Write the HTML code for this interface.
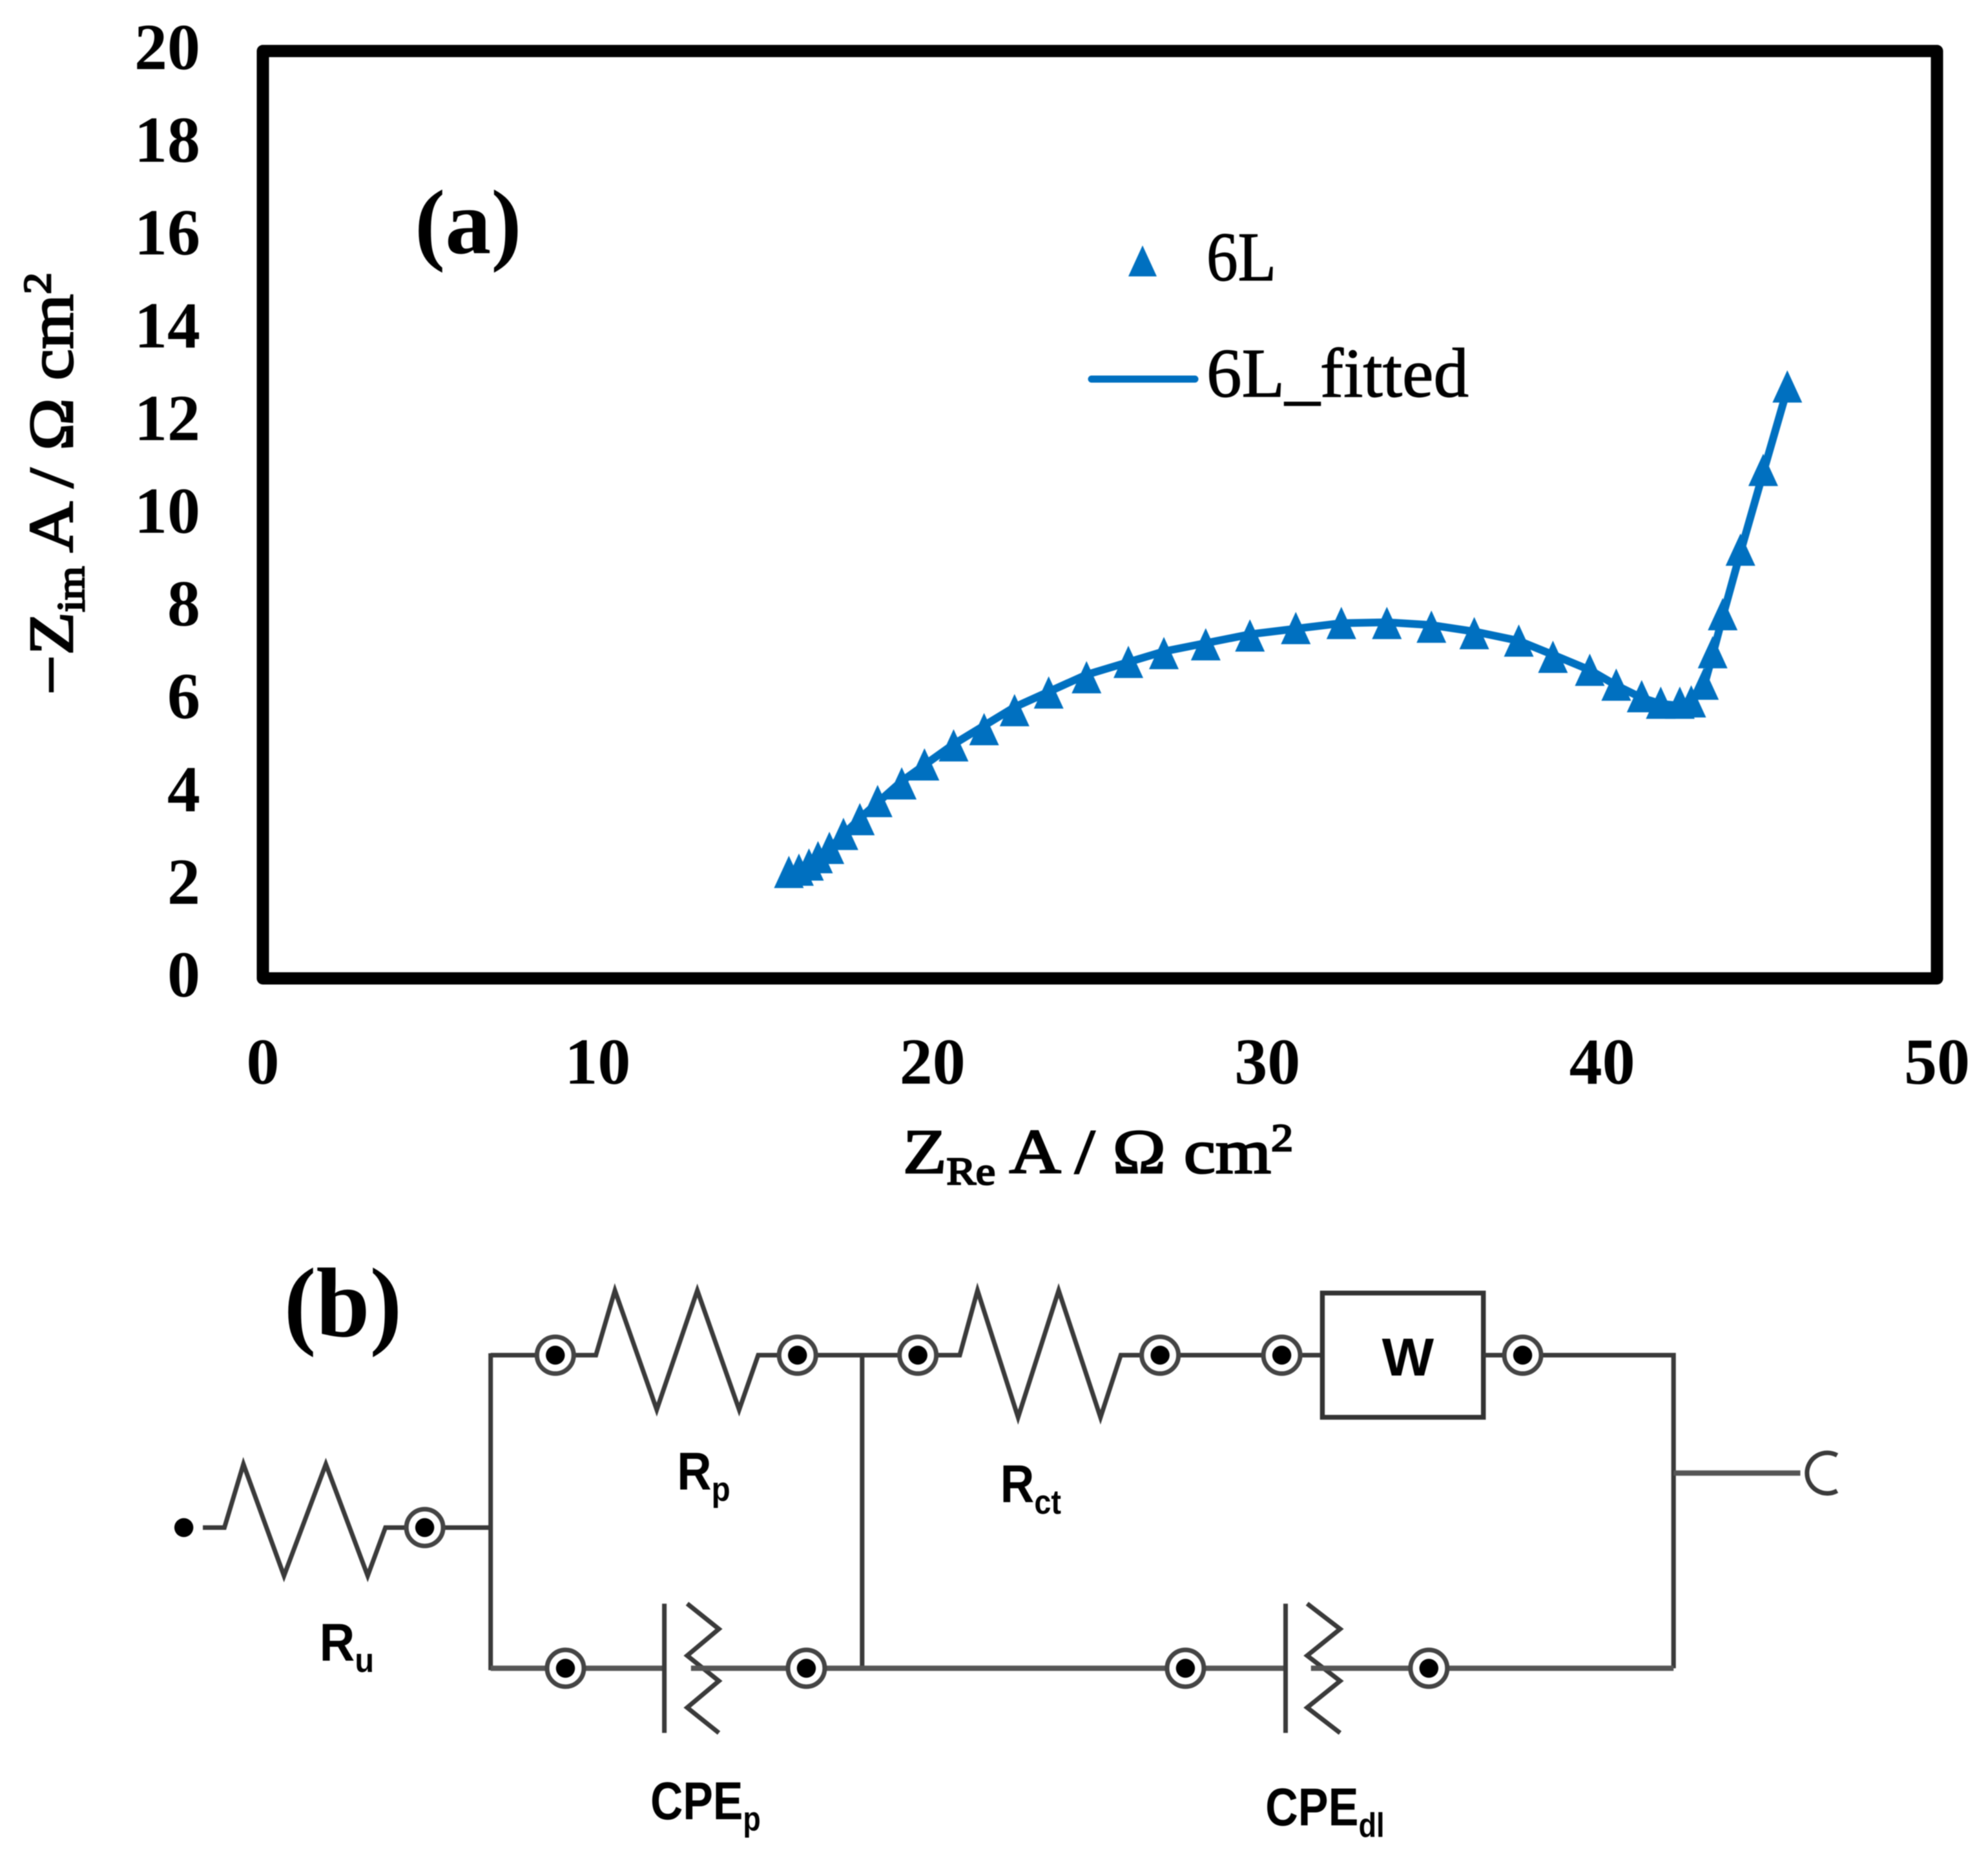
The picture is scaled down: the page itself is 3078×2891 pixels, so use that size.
<!DOCTYPE html>
<html lang="en">
<head>
<meta charset="utf-8">
<title>Nyquist plot and equivalent circuit</title>
<style>
html,body{margin:0;padding:0;background:#fff;}
svg{display:block;filter:blur(0.9px);}
.serif{font-family:"Liberation Serif",serif;fill:#000;}
.tick{font-size:102px;font-weight:bold;}
.leg{font-size:108px;stroke:#000;stroke-width:1.2px;}
.ax{font-size:98px;font-weight:normal;stroke:#000;stroke-width:2.6px;}
.sans{font-family:"Liberation Sans",sans-serif;font-weight:bold;fill:#000;font-size:42px;}
.wire{fill:none;stroke:#3a3a3a;stroke-width:3.6;stroke-linejoin:miter;}
.wire-soft{fill:none;stroke:#555;stroke-width:4.2;}
</style>
</head>
<body>
<svg id="figure" width="3078" height="2891" viewBox="0 0 3078 2891" xmlns="http://www.w3.org/2000/svg">
  <rect x="0" y="0" width="3078" height="2891" fill="#fff"/>
  <g id="chart">
    <rect x="407" y="79" width="2592" height="1436" fill="none" stroke="#000" stroke-width="19" stroke-linejoin="round"/>
    <g id="x-ticks"></g>
    <g id="y-ticks"></g>
    <path id="fit-line" fill="none" stroke="#0070C0" stroke-width="12" stroke-linejoin="round" stroke-linecap="round"/>
    <g id="markers"></g>
    <text class="serif ax" x="1398" y="1816" textLength="604" lengthAdjust="spacingAndGlyphs">Z<tspan font-size="60" dy="18">Re</tspan><tspan dy="-18"> A / Ω cm</tspan><tspan font-size="60" dy="-34">2</tspan></text>
    <text class="serif ax" transform="translate(112 1076) rotate(-90)" x="0" y="0" textLength="654" lengthAdjust="spacingAndGlyphs">−Z<tspan font-size="60" dy="18">im</tspan><tspan dy="-18"> A / Ω cm</tspan><tspan font-size="60" dy="-34">2</tspan></text>
    <text class="serif" x="642" y="392" font-size="142" font-weight="bold">(a)</text>
    <g>
      <polygon points="1769,380 1747,428 1791,428" fill="#0070C0"/>
      <text class="serif leg" x="1868" y="434" textLength="108" lengthAdjust="spacingAndGlyphs">6L</text>
      <line x1="1690" y1="587" x2="1850" y2="587" stroke="#0070C0" stroke-width="11" stroke-linecap="round"/>
      <text class="serif leg" x="1868" y="614" textLength="406" lengthAdjust="spacingAndGlyphs">6L_fitted</text>
    </g>
  </g>

  <g id="circuit" transform="scale(1.963)">
    <defs>
      <g id="node">
        <circle r="14.5" fill="#fff" stroke="#444" stroke-width="3.6"/>
        <circle r="7.5" fill="#000"/>
      </g>
    </defs>
    <text class="serif" x="224" y="1054" font-size="78" font-weight="bold" textLength="93" lengthAdjust="spacingAndGlyphs">(b)</text>
    <circle cx="145" cy="1205" r="7.5" fill="#000"/>
    <polyline class="wire" points="160,1205 177,1205 192,1155 224,1243 257,1155 290,1243 304,1205 320,1205"/>
    <line class="wire" x1="350" y1="1205" x2="387" y2="1205"/>
    <line class="wire" x1="387" y1="1067.5" x2="387" y2="1317.5"/>
    <line class="wire" x1="387" y1="1069" x2="423" y2="1069"/>
    <polyline class="wire" points="453,1069 470,1069 485,1018 518,1112 550,1018 583,1112 598,1069 614,1069"/>
    <line class="wire" x1="644" y1="1069" x2="709" y2="1069"/>
    <line class="wire" x1="680" y1="1069" x2="680" y2="1316"/>
    <polyline class="wire" points="739,1069 757,1069 771,1018 803,1118 835,1018 868,1118 884,1069 900,1069"/>
    <line class="wire" x1="930" y1="1069" x2="996" y2="1069"/>
    <line class="wire" x1="1026" y1="1069" x2="1043" y2="1069"/>
    <rect x="1043" y="1020" width="127" height="98" fill="#fff" stroke="#333" stroke-width="3.8"/>
    <text class="sans" x="1090" y="1085" textLength="41" lengthAdjust="spacingAndGlyphs">W</text>
    <line class="wire" x1="1170" y1="1069" x2="1186" y2="1069"/>
    <polyline class="wire" points="1216,1069 1320,1069 1320,1316"/>
    <line class="wire-soft" x1="1320" y1="1162" x2="1420" y2="1162"/>
    <path class="wire" d="M1449,1148 A16,16 0 1 0 1449,1176"/>
    <line class="wire-soft" x1="387" y1="1316" x2="431" y2="1316"/>
    <line class="wire-soft" x1="461" y1="1316" x2="524" y2="1316"/>
    <line class="wire" x1="524" y1="1265" x2="524" y2="1367"/>
    <polyline class="wire" points="542,1265 567,1285 542,1306 567,1326 542,1347 567,1367"/>
    <line class="wire-soft" x1="545" y1="1316" x2="621" y2="1316"/>
    <line class="wire-soft" x1="651" y1="1316" x2="920" y2="1316"/>
    <line class="wire-soft" x1="950" y1="1316" x2="1014" y2="1316"/>
    <line class="wire" x1="1014" y1="1265" x2="1014" y2="1367"/>
    <polyline class="wire" points="1031,1265 1057,1285 1031,1306 1057,1326 1031,1347 1057,1367"/>
    <line class="wire-soft" x1="1034" y1="1316" x2="1112" y2="1316"/>
    <line class="wire-soft" x1="1142" y1="1316" x2="1320" y2="1316"/>

    <use href="#node" x="335" y="1205"/>
    <use href="#node" x="438" y="1069"/>
    <use href="#node" x="629" y="1069"/>
    <use href="#node" x="724" y="1069"/>
    <use href="#node" x="915" y="1069"/>
    <use href="#node" x="1011" y="1069"/>
    <use href="#node" x="1201" y="1069"/>
    <use href="#node" x="446" y="1316"/>
    <use href="#node" x="636" y="1316"/>
    <use href="#node" x="935" y="1316"/>
    <use href="#node" x="1127" y="1316"/>

    <text class="sans" x="252" y="1310" textLength="43" lengthAdjust="spacingAndGlyphs">R<tspan font-size="27" dy="9">u</tspan></text>
    <text class="sans" x="534" y="1175" textLength="42" lengthAdjust="spacingAndGlyphs">R<tspan font-size="27" dy="9">p</tspan></text>
    <text class="sans" x="789" y="1185" textLength="48" lengthAdjust="spacingAndGlyphs">R<tspan font-size="27" dy="9">ct</tspan></text>
    <text class="sans" x="513" y="1435" textLength="87" lengthAdjust="spacingAndGlyphs">CPE<tspan font-size="27" dy="9">p</tspan></text>
    <text class="sans" x="998" y="1440" textLength="94" lengthAdjust="spacingAndGlyphs">CPE<tspan font-size="27" dy="9">dl</tspan></text>
  </g>
</svg>
<script>
var xTickLabels = [0, 10, 20, 30, 40, 50];
var yTickLabels = [0, 2, 4, 6, 8, 10, 12, 14, 16, 18, 20];
var measuredRe = [15.71,16.01,16.31,16.58,16.92,17.34,17.83,18.36,19.08,19.76,20.63,21.54,22.45,23.47,24.60,25.85,26.91,28.16,29.48,30.85,32.21,33.57,34.90,36.18,37.51,38.53,39.63,40.42,41.18,41.75,42.32,42.66,43.04,43.30,43.60,44.13,44.81,45.53];
var measuredIm = [2.24,2.29,2.40,2.56,2.76,3.06,3.38,3.77,4.15,4.56,4.97,5.32,5.73,6.11,6.44,6.77,6.96,7.15,7.34,7.50,7.61,7.61,7.53,7.39,7.23,6.88,6.60,6.28,6.03,5.89,5.89,5.92,6.30,6.98,7.80,9.19,10.91,12.71];
var fittedRe = [15.71,16.31,16.92,17.83,19.08,20.63,22.45,24.60,26.91,29.48,32.21,33.57,34.90,36.18,37.51,38.53,39.63,40.42,41.18,41.75,42.32,42.66,43.04,43.30,43.60,44.13,44.81,45.53];
var fittedIm = [2.24,2.45,2.80,3.45,4.25,5.05,5.85,6.55,7.05,7.42,7.66,7.68,7.62,7.48,7.28,6.98,6.65,6.32,6.05,5.92,5.88,5.95,6.30,6.98,7.80,9.19,10.91,12.71];

var SVGNS = 'http://www.w3.org/2000/svg';
function xScale(v) { return 407 + (v / 50) * 2592; }
function yScale(v) { return 1515 - (v / 20) * 1436; }

var xTickGroup = document.getElementById('x-ticks');
xTickLabels.forEach(function (v) {
  var t = document.createElementNS(SVGNS, 'text');
  
  
  t.setAttribute('class', 'serif tick');
  t.setAttribute('x', xScale(v));
  t.setAttribute('y', 1678);
  t.setAttribute('text-anchor', 'middle');
  t.textContent = v;
  xTickGroup.appendChild(t);
});

var yTickGroup = document.getElementById('y-ticks');
yTickLabels.forEach(function (v) {
  var t = document.createElementNS(SVGNS, 'text');
  
  
  t.setAttribute('class', 'serif tick');
  t.setAttribute('x', 310);
  t.setAttribute('y', yScale(v) + 28);
  t.setAttribute('text-anchor', 'end');
  t.textContent = v;
  yTickGroup.appendChild(t);
});

var d = fittedRe.map(function (v, i) {
  return (i ? 'L' : 'M') + xScale(v).toFixed(1) + ',' + yScale(fittedIm[i]).toFixed(1);
}).join(' ');
document.getElementById('fit-line').setAttribute('d', d);

var markerGroup = document.getElementById('markers');
measuredRe.forEach(function (v, i) {
  var cx = xScale(v);
  var cy = yScale(measuredIm[i]);
  var p = document.createElementNS(SVGNS, 'polygon');
  
  
  p.setAttribute('fill', '#0070C0');
  p.setAttribute('points', cx + ',' + (cy - 29) + ' ' + (cx - 23) + ',' + (cy + 21) + ' ' + (cx + 23) + ',' + (cy + 21));
  markerGroup.appendChild(p);
});
</script>
</body>
</html>
